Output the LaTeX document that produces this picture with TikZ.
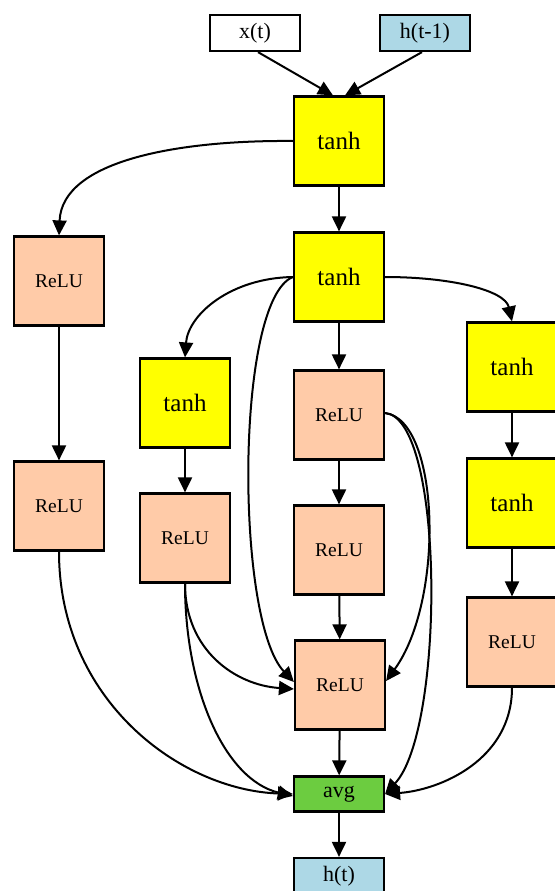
\documentclass[tikz,border=0pt]{standalone}
\usepackage{fontspec}
\setmainfont{Liberation Serif}
\usetikzlibrary{arrows.meta}
\definecolor{tanhcol}{HTML}{FFFF00}
\definecolor{relucol}{HTML}{FFCBA8}
\definecolor{avgcol}{HTML}{6CCC40}
\definecolor{iocol}{HTML}{ADD8E6}
\tikzset{
  opbox/.style={draw, line width=2.2pt, minimum width=90pt, minimum height=89pt, inner sep=0pt},
  tanhbox/.style={opbox, fill=tanhcol, font=\fontsize{25}{25}\selectfont},
  relubox/.style={opbox, fill=relucol, font=\fontsize{19.5}{19.5}\selectfont},
  iobox/.style={draw, line width=2.2pt, minimum width=90pt, minimum height=36pt, inner sep=0pt, font=\fontsize{22}{22}\selectfont},
  edge/.style={line width=2pt, -{Triangle[length=15pt,width=14pt]}}
}

\begin{document}
\begin{tikzpicture}[x=1pt,y=-1pt]
      \useasboundingbox (0,0) rectangle (554,891);
      % inputs
      \node[iobox] (xt) at (255,33) {x(t)};
      \node[iobox, fill=iocol] (hprev) at (425,33) {h(t-1)};
      % centre column
      \node[tanhbox] (t1) at (339,141) {tanh};
      \node[tanhbox] (t2) at (339,277) {tanh};
      \node[relubox] (c1) at (339,415) {ReLU};
      \node[relubox] (c2) at (339,550) {ReLU};
      \node[relubox] (c3) at (340,685) {ReLU};
      \node[iobox, fill=avgcol, minimum height=35pt, font=\fontsize{22}{22}\selectfont] (avg) at (339,794) {avg};
      \node[iobox, fill=iocol, font=\fontsize{22}{22}\selectfont] (ht) at (339,876) {h(t)};
      % side columns
      \node[relubox] (l1) at (59,281) {ReLU};
      \node[relubox] (l2) at (59,506) {ReLU};
      \node[tanhbox] (m1) at (185,403) {tanh};
      \node[relubox] (m2) at (185,538) {ReLU};
      \node[tanhbox] (r1) at (512,367) {tanh};
      \node[tanhbox] (r2) at (512,503) {tanh};
      \node[relubox] (r3) at (512,642) {ReLU};
      % edges
      \draw[edge] ([xshift=3pt]xt.south) -- ([xshift=-6pt]t1.north);
      \draw[edge] ([xshift=-3pt]hprev.south) -- ([xshift=6pt]t1.north);
      \draw[edge] (t1) -- (t2);
      \draw[edge] (t1.west) .. controls (180,140) and (62,160) .. (l1.north);
      \draw[edge] (l1) -- (l2);
      \draw[edge] (l2.south) .. controls (59,700) and (180,790) .. (avg.west);
      \draw[edge] (t2.west) .. controls (230,278) and (188,315) .. (m1.north);
      \draw[edge] (t2.west) .. controls (235,300) and (235,620) .. ([yshift=3pt]c3.west);
      \draw[edge] (t2) -- (c1);
      \draw[edge] (t2.east) .. controls (450,277) and (505,290) .. (r1.north);
      \draw[edge] (m1) -- (m2);
      \draw[edge] (m2.south) .. controls (185,650) and (235,685) .. ([yshift=-4pt]c3.west);
      \draw[edge] (m2.south) .. controls (185,690) and (225,780) .. ([yshift=-2pt]avg.west);
      \draw[edge] (c1) -- (c2);
      \draw[edge] (c2) -- (c3);
      \draw[edge] ([yshift=2pt]c1.east) .. controls (440,420) and (445,600) .. ([yshift=4pt]c3.east);
      \draw[edge] ([yshift=2pt]c1.east) .. controls (445,418) and (445,730) .. (avg.east);
      \draw[edge] (c3) -- (avg);
      \draw[edge] (r1) -- (r2);
      \draw[edge] (r2) -- (r3);
      \draw[edge] (r3.south) .. controls (512,760) and (440,790) .. (avg.east);
      \draw[edge] (avg) -- (ht);
\end{tikzpicture}
\end{document}
